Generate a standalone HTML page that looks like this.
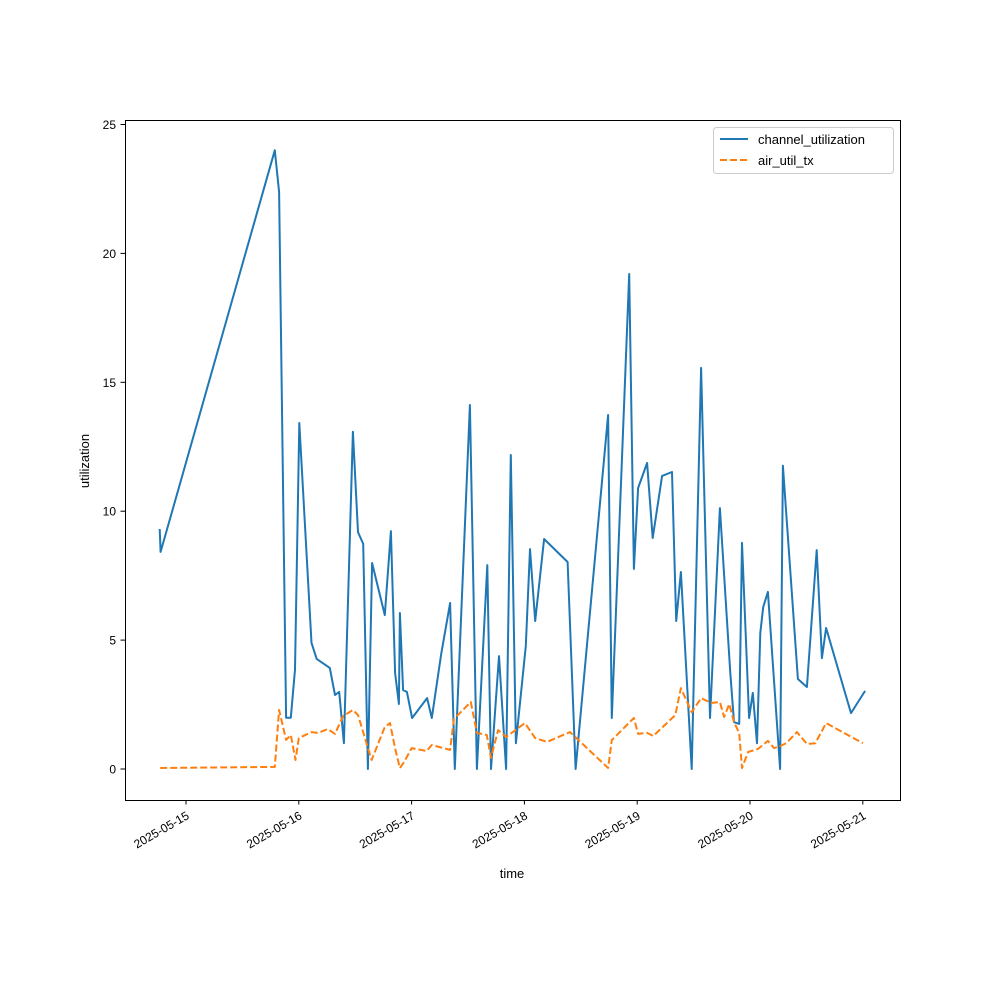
<!DOCTYPE html>
<html><head><meta charset="utf-8"><style>body{margin:0;background:#fff}svg{display:block;font-family:"Liberation Sans","DejaVu Sans",sans-serif}</style></head>
<body>
<svg id="chart" width="1000" height="1000" viewBox="0 0 1000 1000">
<rect x="0" y="0" width="1000" height="1000" fill="#fff"/>
<g id="plot"></g>
<rect x="125.5" y="120.5" width="775" height="680" fill="none" stroke="#000" stroke-width="1"/>
<g id="xaxis"></g>
<g id="yaxis"></g>
<text x="512" y="878" font-size="13" text-anchor="middle">time</text>
<text x="89" y="461" font-size="13" text-anchor="middle" transform="rotate(-90 89 461)">utilization</text>
<g>
<rect x="713.5" y="127.5" width="180" height="46" rx="3" fill="#fff" fill-opacity="0.8" stroke="#ccc"/>
<line x1="720" y1="139" x2="748" y2="139" stroke="#1f77b4" stroke-width="2"/>
<text x="758" y="144" font-size="13">channel_utilization</text>
<line x1="720" y1="160" x2="748" y2="160" stroke="#ff7f0e" stroke-width="2" stroke-dasharray="7,3"/>
<text x="758" y="165" font-size="13">air_util_tx</text>
</g>
</svg>
<script>
// hours since 2025-05-15 00:00
const chHours=[-5.6,-5.4,18.9,19.8,21.3,22.3,23.2,24.1,26.7,27.8,30.6,31.7,32.6,33.6,35.5,36.6,37.7,38.7,39.6,42.3,43.6,44.5,45.3,45.5,46.2,47.0,48.1,51.3,52.3,54.3,56.2,57.2,60.4,61.9,64.1,64.9,66.6,68.1,69.1,70.2,72.3,73.2,74.3,76.2,81.2,82.9,89.8,90.6,94.3,95.3,96.2,98.1,99.3,101.3,103.4,104.3,105.3,107.6,109.6,111.5,113.6,115.8,116.6,117.7,118.3,119.8,120.6,121.5,122.2,122.8,123.8,126.4,127.0,130.2,132.1,134.2,135.3,136.2,141.5,144.5];
const chValues=[9.31,8.42,24.0,22.38,1.99,1.99,3.85,13.42,4.89,4.27,3.92,2.87,2.99,1.0,13.08,9.19,8.73,0,7.99,5.97,9.23,3.72,2.52,6.05,3.06,2.99,1.98,2.75,1.98,4.46,6.44,0,14.12,0,7.91,0,4.38,0,12.18,1.0,4.77,8.53,5.74,8.92,8.03,0,13.73,1.98,19.2,7.76,10.9,11.87,8.96,11.37,11.52,5.74,7.64,0,15.56,1.98,10.12,3.72,1.82,1.75,8.77,1.98,2.95,1.0,5.28,6.28,6.87,0,11.76,3.49,3.18,8.49,4.3,5.47,2.17,3.03];
const airHours=[-5.5,18.9,19.8,21.3,22.3,23.3,24.0,26.7,28.1,30.2,31.7,33.4,35.5,36.6,39.5,42.3,43.4,44.5,45.5,46.4,48.0,51.2,52.3,56.2,57.0,60.6,61.9,64.0,64.9,66.4,68.1,72.1,74.3,76.8,81.7,89.8,90.6,95.3,96.2,98.1,99.4,104.1,105.3,107.6,109.6,111.7,113.6,114.5,115.6,116.6,117.7,118.3,119.6,121.7,123.8,125.1,126.4,127.7,130.0,132.1,133.9,136.2,144.0];
const airValues=[0.04,0.08,2.29,1.13,1.32,0.35,1.2,1.43,1.4,1.55,1.36,2.05,2.29,2.09,0.35,1.63,1.78,0.8,0.04,0.27,0.81,0.7,0.93,0.74,1.94,2.6,1.4,1.32,0.43,1.51,1.24,1.78,1.2,1.05,1.43,0.04,1.12,1.98,1.36,1.4,1.28,2.09,3.14,2.2,2.75,2.56,2.6,2.02,2.52,1.82,1.4,0.04,0.66,0.78,1.09,0.81,0.89,1.0,1.43,0.97,1.0,1.78,1.0];
const xTickLabels=["2025-05-15","2025-05-16","2025-05-17","2025-05-18","2025-05-19","2025-05-20","2025-05-21"];
const yTickLabels=["0","5","10","15","20","25"];
const yTickValues=[0,5,10,15,20,25];

const X=h=>186+h*112.8/24;
const Y=v=>769-25.78*v;
const NS="http://www.w3.org/2000/svg";
function mk(tag,attrs){const e=document.createElementNS(NS,tag);for(const k in attrs)e.setAttribute(k,attrs[k]);return e;}
const plot=document.getElementById('plot'),xa=document.getElementById('xaxis'),ya=document.getElementById('yaxis');

const p1=mk('polyline',{points:chHours.map((h,i)=>X(h).toFixed(1)+','+Y(chValues[i]).toFixed(1)).join(' '),fill:'none',stroke:'#1f77b4','stroke-width':2,'stroke-linejoin':'round'});


plot.appendChild(p1);
const p2=mk('polyline',{points:airHours.map((h,i)=>X(h).toFixed(1)+','+Y(airValues[i]).toFixed(1)).join(' '),fill:'none',stroke:'#ff7f0e','stroke-width':2,'stroke-dasharray':'7,3','stroke-linejoin':'round'});


plot.appendChild(p2);

xTickLabels.forEach((lab,i)=>{
  const x=X(i*24);
  const t=mk('line',{x1:x,y1:800,x2:x,y2:804.5,stroke:'#000'});
  
  
  xa.appendChild(t);
  const tx=mk('text',{x:x+4,y:818,'font-size':12,'text-anchor':'end',transform:`rotate(-30 ${x+4} 818)`});
  tx.textContent=lab;
  
  
  xa.appendChild(tx);
});
yTickValues.forEach((v,i)=>{
  const y=Y(v);
  const t=mk('line',{x1:120.5,y1:y,x2:125,y2:y,stroke:'#000'});
  
  
  ya.appendChild(t);
  const tx=mk('text',{x:116,y:y+4.5,'font-size':12,'text-anchor':'end'});
  tx.textContent=yTickLabels[i];
  
  
  ya.appendChild(tx);
});
</script>
</body></html>
